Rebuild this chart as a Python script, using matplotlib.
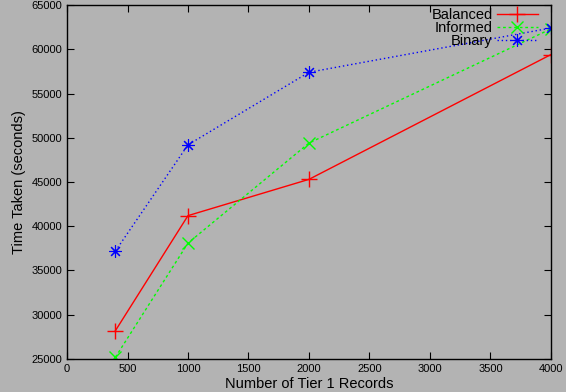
import matplotlib
matplotlib.use("Agg")
import matplotlib.pyplot as plt

# records vs time
records = [400, 1000, 2000, 4000]
balanced = [28200, 41200, 45300, 59400]
informed = [25200, 38100, 49400, 62300]
binary = [37200, 49200, 57400, 62400]

xticks = list(range(0, 4001, 500))
yticks = list(range(25000, 65001, 5000))

plt.rcParams['font.family'] = ['Liberation Sans', 'DejaVu Sans']
grey = '#b3b3b3'

fig = plt.figure(figsize=(5.66, 3.92), dpi=100, facecolor=grey)
ax = fig.add_axes([0.1184, 0.0842, 0.855, 0.903], facecolor=grey)

ax.plot(records, balanced, color='red', lw=1, marker='+', ms=11, mew=1,
        label='Balanced')
ax.plot(records, informed, color='#00ff00', lw=1, ls=(0, (2, 2)), marker='x',
        ms=8, mew=1, label='Informed')
ax.plot(records, binary, color='blue', lw=1, ls=(0, (1, 2)), marker=(8, 2, 0),
        ms=9, mew=0.8, label='Binary')

ax.set_xlim(0, 4000)
ax.set_ylim(25000, 65000)
ax.set_xticks(xticks)
ax.set_yticks(yticks)
ax.tick_params(direction='in', top=True, right=True, labelsize=8, length=5)
for s in ax.spines.values():
    s.set_linewidth(1)

ax.set_xlabel('Number of Tier 1 Records', fontsize=10.5, labelpad=2)
ax.set_ylabel('Time Taken (seconds)', fontsize=10.5, labelpad=4)

ax.legend(loc='upper right', bbox_to_anchor=(0.979, 1.0), frameon=False,
          markerfirst=False, fontsize=10.5, handlelength=2.8, labelspacing=-0.05,
          borderaxespad=0.1, borderpad=0.1, handletextpad=0.3)

fig.savefig('out.png', dpi=100, facecolor=grey)
